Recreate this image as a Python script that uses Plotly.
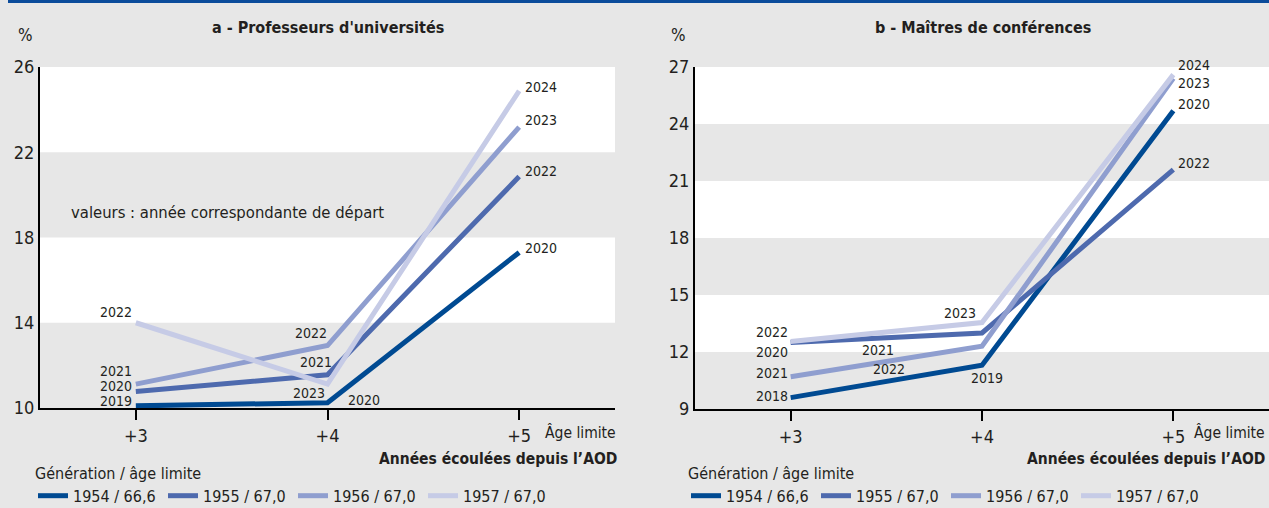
import plotly.graph_objects as go

W, H = 1269, 508

# x categories: years elapsed since AOD
x_vals = [3, 4, 5]
x_ticks = ["+3", "+4", "+5"]

generations = ["1954 / 66,6", "1955 / 67,0", "1956 / 67,0", "1957 / 67,0"]
colors = ["#004a92", "#4e6aae", "#8f9ecf", "#c6cbe6"]

# a - Professeurs d'universités (%)
pu_1954 = [10.1, 10.25, 17.3]
pu_1955 = [10.77, 11.56, 20.86]
pu_1956 = [11.12, 12.93, 23.18]
pu_1957 = [14.0, 11.12, 24.88]
pu_labels = [["2019", "2020", "2020"], ["2020", "2021", "2022"],
             ["2021", "2022", "2023"], ["2022", "2023", "2024"]]

# b - Maîtres de conférences (%)
mc_1954 = [9.6, 11.3, 24.7]
mc_1955 = [12.5, 13.0, 21.6]
mc_1956 = [10.7, 12.3, 26.4]
mc_1957 = [12.55, 13.55, 26.6]
mc_labels = [["2018", "2019", "2020"], ["2020", "2021", "2022"],
             ["2021", "2022", "2023"], ["2022", "2023", "2024"]]

pu_yticks = [10, 14, 18, 22, 26]
mc_yticks = [9, 12, 15, 18, 21, 24, 27]

# label offsets in px (dx, dy up) for each point label
pu_shift = [[(-20, 5), (36, 3), (22, 4)],
            [(-20, 6), (-12, 13), (22, 6)],
            [(-20, 13), (-17, 13), (22, 7)],
            [(-20, 11), (-19, -9), (22, 4)]]
mc_shift = [[(-19, 2), (5, -13), (21, 7)],
            [(-19, -9), (-104, -17), (21, 7)],
            [(-19, 4), (-93, -23), (21, -5)],
            [(-19, 10), (-22, 10), (21, 10)]]

FONT = "DejaVu Sans Condensed, Liberation Sans Narrow, sans-serif"
BG = "#e7e7e7"
TXT = "#231f20"

fig = go.Figure()

panels = [
    dict(x="x", y="y", series=[pu_1954, pu_1955, pu_1956, pu_1957], labels=pu_labels,
         shift=pu_shift, legend="legend"),
    dict(x="x2", y="y2", series=[mc_1954, mc_1955, mc_1956, mc_1957], labels=mc_labels,
         shift=mc_shift, legend="legend2"),
]

annotations = []
for p in panels:
    for i, vals in enumerate(p["series"]):
        fig.add_trace(go.Scatter(
            x=x_vals, y=vals, mode="lines", name=generations[i],
            line=dict(color=colors[i], width=5),
            xaxis=p["x"], yaxis=p["y"], legend=p["legend"],
            hoverinfo="skip",
        ))
        for j, (xv, yv) in enumerate(zip(x_vals, vals)):
            dx, dy = p["shift"][i][j]
            annotations.append(dict(
                x=xv, y=yv, xref=p["x"], yref=p["y"], text=p["labels"][i][j],
                showarrow=False, xshift=dx, yshift=dy, borderpad=0,
                font=dict(size=14, color=TXT, family=FONT),
            ))

# blue top rule + alternating horizontal bands
shapes = [dict(type="rect", xref="paper", yref="paper", x0=8 / W, x1=1,
               y0=1 - 3 / H, y1=1, fillcolor="#0b4c9b", line_width=0, layer="above")]
for xr, yr, ticks in [("x", "y", pu_yticks), ("x2", "y2", mc_yticks)]:
    for k in range(0, len(ticks) - 1, 2):
        shapes.append(dict(type="rect", xref=xr + " domain", yref=yr,
                           x0=0, x1=1, y0=ticks[k], y1=ticks[k + 1],
                           fillcolor=BG, line_width=0, layer="below"))

left_dom = [40 / W, 615 / W]
right_dom = [695 / W, 1.0]
y_dom_a = [(H - 408) / H, (H - 67) / H]
y_dom_b = [(H - 409) / H, (H - 67) / H]

axis_common = dict(showgrid=False, zeroline=False, showline=True, linecolor="black",
                   linewidth=2, tickfont=dict(size=18, color=TXT, family=FONT))

legend_common = dict(orientation="h", xanchor="left", y=(H - 458) / H, yanchor="top",
                     bgcolor="rgba(0,0,0,0)", font=dict(size=16, family=FONT, color=TXT),
                     title=dict(text="Génération / âge limite", side="top",
                                font=dict(size=16, family=FONT, color=TXT)),
                     entrywidth=85, entrywidthmode="pixels", itemclick=False)

fig.update_layout(
    width=W, height=H,
    margin=dict(l=0, r=0, t=0, b=0, autoexpand=False),
    paper_bgcolor=BG, plot_bgcolor="white",
    font=dict(family=FONT, color=TXT),
    xaxis=dict(domain=left_dom, range=[2.5, 5.5], tickvals=x_vals, ticktext=x_ticks,
               ticks="outside", ticklen=10, tickwidth=2, tickcolor="black", anchor="y",
               **axis_common),
    yaxis=dict(domain=y_dom_a, range=[10, 26], tickvals=pu_yticks, ticks="",
               anchor="x", **axis_common),
    xaxis2=dict(domain=right_dom, range=[2.5, 5.5], tickvals=x_vals, ticktext=x_ticks,
                ticks="outside", ticklen=10, tickwidth=2, tickcolor="black", anchor="y2",
                **axis_common),
    yaxis2=dict(domain=y_dom_b, range=[9, 27], tickvals=mc_yticks, ticks="",
                anchor="x2", **axis_common),
    legend=dict(x=33 / W, **legend_common),
    legend2=dict(x=686 / W, **legend_common),
    shapes=shapes,
)

def paper_text(text, xpx, ypx, anchor="center", size=17, bold=False):
    return dict(x=xpx / W, y=(H - ypx) / H, xref="paper", yref="paper",
                text=f"<b>{text}</b>" if bold else text, showarrow=False,
                xanchor=anchor, yanchor="middle",
                font=dict(size=size, family=FONT, color=TXT))

annotations += [
    paper_text("a - Professeurs d'universités", 328, 27, size=16, bold=True),
    paper_text("b - Maîtres de conférences", 983, 27, size=16, bold=True),
    paper_text("%", 25, 35, size=17),
    paper_text("%", 678, 35, size=17),
    paper_text("Âge limite", 618, 432, anchor="right", size=15.5),
    paper_text("Âge limite", 1267, 432, anchor="right", size=15.5),
    paper_text("Années écoulées depuis l’AOD", 619, 459, anchor="right", size=15.5, bold=True),
    paper_text("Années écoulées depuis l’AOD", 1267, 459, anchor="right", size=15.5, bold=True),
    paper_text("valeurs : année correspondante de départ", 69, 212, anchor="left", size=16.5),
]
fig.update_layout(annotations=annotations)

fig.write_html("out.html", config={"displayModeBar": False},
               post_script="document.body.style.margin='0';")
